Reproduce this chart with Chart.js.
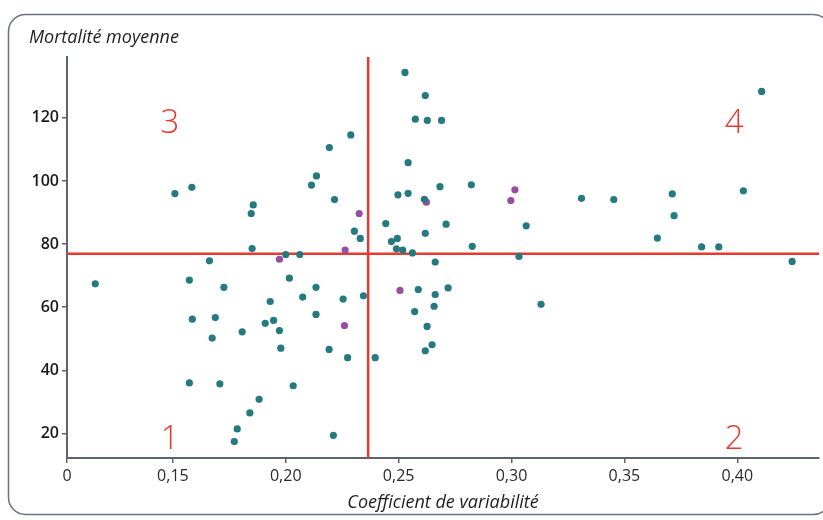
<!DOCTYPE html>
<html>
<head>
<meta charset="utf-8">
<script src="https://cdn.jsdelivr.net/npm/chart.js@4.4.1/dist/chart.umd.min.js"></script>
<style>
  html, body { margin: 0; padding: 0; background: #ffffff; }
  #wrap { width: 823px; height: 520px; position: relative; }
</style>
</head>
<body>
<div id="wrap"><canvas id="c"></canvas></div>
<script>
// ---- Data ----
const tealX = [0.1509,0.1584,0.1847,0.1856,0.1851,0.1662,0.2000,0.2062,0.2114,0.2136,
  0.2528,0.2618,0.2574,0.2627,0.2690,0.2288,0.2193,0.2216,0.2542,0.2497,
  0.2542,0.2614,0.2683,0.2822,0.2443,0.2710,0.3065,0.2304,0.2330,0.2618,
  0.2468,0.2494,0.2490,0.2518,0.2561,0.2826,0.3033,0.2662,0.4108,0.4027,
  0.3310,0.3453,0.3712,0.3720,0.3646,0.3842,0.3918,0.4243,0.0400,0.1573,
  0.1726,0.1586,0.1688,0.1674,0.1807,0.1931,0.1909,0.1946,0.1972,0.1978,
  0.2016,0.2075,0.2134,0.2134,0.1573,0.1708,0.2033,0.1882,0.1841,0.1785,
  0.1772,0.2254,0.2344,0.2192,0.2274,0.2396,0.2211,0.2587,0.2662,0.2719,
  0.2657,0.2571,0.2626,0.2648,0.2618,0.3131];
const tealY = [96.0,98.0,89.7,92.4,78.6,74.7,76.7,76.7,98.7,101.6,
  134.4,127.1,119.6,119.2,119.2,114.6,110.6,94.1,105.8,95.6,
  96.1,94.2,98.2,98.8,86.5,86.3,85.8,84.1,81.8,83.4,
  80.8,81.8,78.5,78.1,77.2,79.3,76.1,74.3,128.4,96.9,
  94.5,94.1,95.9,89.0,81.9,79.1,79.1,74.5,67.4,68.6,
  66.3,56.2,56.7,50.2,52.2,61.8,54.9,55.8,52.6,47.0,
  69.2,63.2,66.3,57.7,36.0,35.7,35.1,30.8,26.5,21.4,
  17.4,62.6,63.6,46.6,44.0,44.0,19.4,65.6,64.0,66.1,
  60.3,58.6,53.9,48.1,46.2,60.9];
const purpleX = [0.1972,0.2325,0.2263,0.2623,0.3015,0.2997,0.2260,0.2506];
const purpleY = [75.2,89.7,78.1,93.3,97.2,93.8,54.2,65.3];

const xMean = 0.2365;   // vertical red line
const yMean = 76.9;     // horizontal red line
const xTicks = [0, 0.15, 0.20, 0.25, 0.30, 0.35, 0.40];
const yTicks = [20, 40, 60, 80, 100, 120];
const xMin = 0, xBreak = 0.15, xMax = 0.4362;
const yMin = 12.2, yMax = 139.3;
const quadrantText = ['1', '2', '3', '4'];
const quadrantX = [0.15, 0.40, 0.15, 0.40];
const quadrantY = [20, 20, 120, 120];

const TEAL = '#257a80', PURPLE = '#94509f', RED = '#e8392f', AXIS = '#5b6473';
const FONT = '"Open Sans", "Noto Sans", sans-serif';

// ---- Broken linear scale: [0, 0.15] compressed, then linear ----
class BrokenLinearScale extends Chart.LinearScale {
  getPixelForValue(value) {
    if (value === null || value === undefined) return NaN;
    const r = this.options.breakRatio, b = this.options.breakAt;
    let d;
    if (value <= b) d = (value - this.min) / (b - this.min) * r;
    else d = r + (value - b) / (this.max - b) * (1 - r);
    return this.getPixelForDecimal(d);
  }
  getValueForPixel(pixel) {
    const r = this.options.breakRatio, b = this.options.breakAt;
    const d = this.getDecimalForPixel(pixel);
    if (d <= r) return this.min + d / r * (b - this.min);
    return b + (d - r) / (1 - r) * (this.max - b);
  }
}
BrokenLinearScale.id = 'brokenLinear';
BrokenLinearScale.defaults = Chart.LinearScale.defaults;
Chart.register(BrokenLinearScale);

const toPts = (xs, ys) => xs.map((x, i) => ({ x: x, y: ys[i] }));

const decorPlugin = {
  id: 'decor',
  beforeDraw(chart) {
    const ctx = chart.ctx;
    ctx.save();
    ctx.strokeStyle = '#6b7380';
    ctx.lineWidth = 1.5;
    ctx.beginPath();
    ctx.roundRect(8.5, 14.5, 822, 500, 17);
    ctx.stroke();
    ctx.restore();
  },
  afterDraw(chart) {
    const ctx = chart.ctx;
    const xs = chart.scales.x, ys = chart.scales.y;
    ctx.save();
    ctx.fillStyle = '#1f1f1f';
    ctx.font = 'italic 18px ' + FONT;
    ctx.textAlign = 'left';
    ctx.textBaseline = 'alphabetic';
    ctx.fillText('Mortalité moyenne', 29, 43);
    ctx.fillStyle = RED;
    ctx.font = '300 33px ' + FONT;
    ctx.textAlign = 'center';
    ctx.textBaseline = 'middle';
    quadrantText.forEach((t, i) => {
      ctx.fillText(t, xs.getPixelForValue(quadrantX[i]) - 3, ys.getPixelForValue(quadrantY[i]) + 6);
    });
    ctx.restore();
  }
};

new Chart(document.getElementById('c'), {
  type: 'scatter',
  data: {
    datasets: [
      { data: toPts(tealX, tealY), backgroundColor: TEAL, borderWidth: 0, pointRadius: 3.6, order: 0 },
      { data: toPts(purpleX, purpleY), backgroundColor: PURPLE, borderWidth: 0, pointRadius: 3.6, order: 0 },
      { type: 'line', data: [{ x: xMean, y: yMin }, { x: xMean, y: yMax }], borderColor: RED, borderWidth: 2.5, pointRadius: 0, order: 5 },
      { type: 'line', data: [{ x: xMin, y: yMean }, { x: xMax, y: yMean }], borderColor: RED, borderWidth: 2.5, pointRadius: 0, order: 5 }
    ]
  },
  options: {
    responsive: true,
    maintainAspectRatio: false,
    animation: false,
    events: [],
    layout: { padding: { top: 57, right: 3, left: 0, bottom: 0 } },
    plugins: { legend: { display: false }, tooltip: { enabled: false }, title: { display: false } },
    scales: {
      x: {
        type: 'brokenLinear',
        min: xMin, max: xMax,
        breakAt: xBreak, breakRatio: 0.1408,
        afterBuildTicks: s => { s.ticks = xTicks.map(v => ({ value: v })); },
        afterFit: s => { s.height = 62; },
        grid: { drawOnChartArea: false, drawTicks: true, tickLength: 5, color: AXIS, lineWidth: 1.5 },
        border: { display: true, color: AXIS, width: 2 },
        ticks: {
          color: '#2b2b2b', font: { family: FONT, size: 16 }, padding: 4, maxRotation: 0, autoSkip: false,
          callback: v => v === 0 ? '0' : Number(v).toFixed(2).replace('.', ',')
        },
        title: { display: true, text: 'Coefficient de variabilité', color: '#1f1f1f', font: { family: FONT, size: 18, style: 'italic' }, padding: { top: 2, bottom: 6 } }
      },
      y: {
        type: 'linear',
        min: yMin, max: yMax,
        afterBuildTicks: s => { s.ticks = yTicks.map(v => ({ value: v })); },
        afterFit: s => { s.width = 67; },
        grid: { drawOnChartArea: false, drawTicks: true, tickLength: 5, color: AXIS, lineWidth: 1.5 },
        border: { display: true, color: AXIS, width: 2 },
        ticks: { color: '#1a1a1a', font: { family: FONT, size: 16, weight: '600' }, padding: 3 }
      }
    }
  },
  plugins: [decorPlugin]
});
</script>
</body>
</html>
